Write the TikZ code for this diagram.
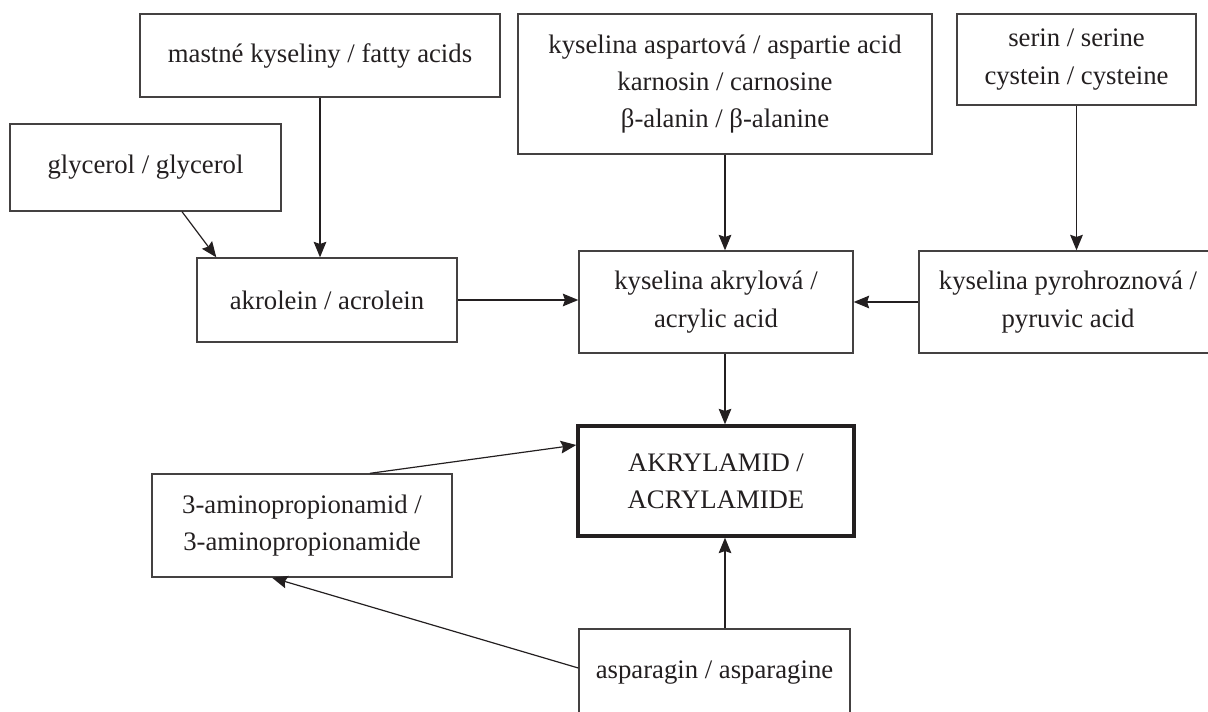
\documentclass[tikz,border=0pt]{standalone}
\usepackage{fontspec}
\setmainfont{Liberation Serif}
\usetikzlibrary{arrows.meta,calc}
\definecolor{ink}{RGB}{35,31,32}
\begin{document}
\begin{tikzpicture}[x=0.025cm,y=0.025cm,>={Stealth[length=11pt,width=9pt,inset=1.5pt]},
		font=\fontsize{19}{26.5}\selectfont,text=ink,
		box/.style={draw=ink!85,line width=0.95pt,align=center,inner sep=0pt},
		hlavni/.style={box,line width=2.4pt,draw=ink},
		sipka/.style={->,draw=ink,line width=0.85pt}]
	\useasboundingbox (0,0) rectangle (1208,711);
	% horni rada
	\node[box,minimum width=9cm,minimum height=2.075cm] (fatty) at (320,655.5) {mastné kyseliny / fatty acids};
	\node[box,minimum width=6.775cm,minimum height=2.175cm] (glyc) at (145.5,543.5) {glycerol / glycerol};
	\node[box,minimum width=10.35cm,minimum height=3.5cm] (asp) at (725,627) {kyselina aspartová / aspartie acid\\karnosin / carnosine\\β-alanin / β-alanine};
	\node[box,minimum width=5.975cm,minimum height=2.275cm] (ser) at (1076.5,651.5) {serin / serine\\cystein / cysteine};
	% prostredni rada
	\node[box,minimum width=6.5cm,minimum height=2.1cm] (akrolein) at (327,411) {akrolein / acrolein};
	\node[box,minimum width=6.85cm,minimum height=2.55cm] (acrylic) at (716,409) {kyselina akrylová /\\acrylic acid};
	\node[box,minimum width=7.45cm,minimum height=2.55cm] (pyro) at (1068,409) {kyselina pyrohroznová /\\pyruvic acid};
	% akrylamid a spodek
	\node[hlavni,minimum width=6.9cm,minimum height=2.75cm] (akrylamid) at (716,230) {AKRYLAMID /\\ACRYLAMIDE};
	\node[box,minimum width=7.5cm,minimum height=2.575cm] (amino) at (302,185.5) {3-aminopropionamid /\\3-aminopropionamide};
	\node[box,minimum width=6.775cm,minimum height=2.2cm] (asparagin) at (714.5,38) {asparagin / asparagine};
	% sipky
	\draw[sipka] ($(glyc.south)+(36.5,0)$)--($(akrolein.north west)+(20,0)$);
	\draw[sipka] (fatty.south)--(fatty.south |- akrolein.north);
	\draw[sipka] (asp.south)--(asp.south |- acrylic.north);
	\draw[sipka] (ser.south)--(ser.south |- pyro.north);
	\draw[sipka] (akrolein.east)--(akrolein.east -| acrylic.west);
	\draw[sipka] (pyro.west)--(pyro.west -| acrylic.east);
	\draw[sipka] (asp.south |- acrylic.south)--(asp.south |- akrylamid.north);
	\draw[sipka] (asp.south |- asparagin.north)--(asp.south |- akrylamid.south);
	\draw[sipka] ($(amino.north)+(68,0)$)--($(akrylamid.west)+(0,36)$);
	\draw[sipka] ($(asparagin.west)+(0,5)$)--($(amino.south)+(-30,0)$);
\end{tikzpicture}
\end{document}
